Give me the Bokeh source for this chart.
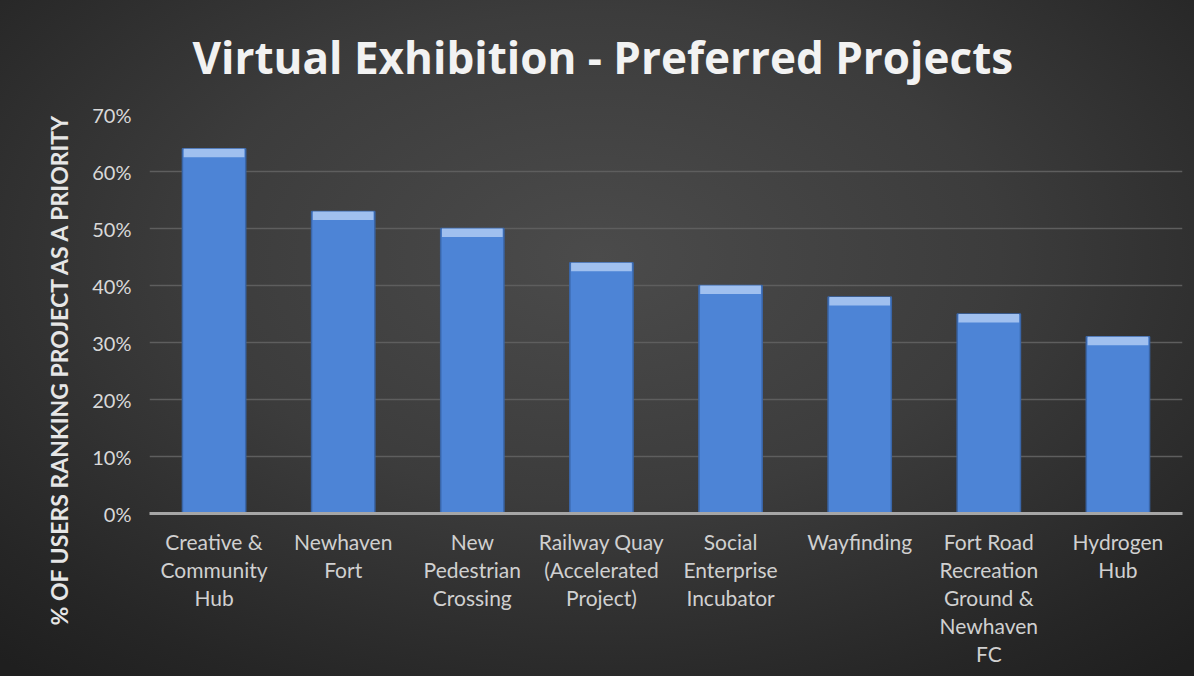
import numpy as np
from bokeh.plotting import figure
from bokeh.models import (FixedTicker, NumeralTickFormatter, Title, Range1d, ColumnDataSource)
from bokeh.embed import file_html
from bokeh.resources import INLINE

# ---- data ----
categories = [
    "Creative &\nCommunity\nHub",
    "Newhaven\nFort",
    "New\nPedestrian\nCrossing",
    "Railway Quay\n(Accelerated\nProject)",
    "Social\nEnterprise\nIncubator",
    "Wayfinding",
    "Fort Road\nRecreation\nGround &\nNewhaven\nFC",
    "Hydrogen\nHub",
]
values = [0.64, 0.53, 0.50, 0.44, 0.40, 0.38, 0.35, 0.31]
y_ticks = [0.0, 0.1, 0.2, 0.3, 0.4, 0.5, 0.6, 0.7]

title_text = "Virtual Exhibition - Preferred Projects"
y_title = "% OF USERS RANKING PROJECT AS A PRIORITY"

FONT = "Lato"
n = len(categories)
xs = list(np.arange(n) + 0.5)

src = ColumnDataSource(dict(x=xs, top=values,
                            bev=[v - 0.015 for v in values]))

p = figure(width=1194, height=676, output_backend="svg", toolbar_location=None,
           x_range=Range1d(0, n), y_range=Range1d(0, 0.7),
           min_border_left=149, min_border_right=12,
           min_border_top=114, min_border_bottom=163)

p.border_fill_alpha = 0
p.background_fill_alpha = 0
p.outline_line_color = None
p.styles = {"background": "radial-gradient(ellipse 75% 80% at 50% 38%, #4b4b4b 0%, #3c3c3c 45%, #262626 85%, #1f1f1f 100%)"}

# bars
p.vbar(x="x", top="top", bottom=0, width=0.49, source=src,
       fill_color="#4d84d6", line_color="#3a66a8", line_width=1.5)
p.vbar(x="x", top="top", bottom="bev", width=0.47, source=src,
       fill_color="#a0c0ef", line_color=None)

# title
p.title.text = title_text
p.title.text_font = "Open Sans"
p.title.text_font_style = "bold"
p.title.text_font_size = "44px"
p.title.text_color = "#f2f2f2"
p.title.align = "left"
p.title.offset = 43
p.title.standoff = 51
p.title.vertical_align = "top"

# y axis
p.yaxis.ticker = FixedTicker(ticks=y_ticks)
p.yaxis.formatter = NumeralTickFormatter(format="0%")
p.yaxis.axis_line_color = None
p.yaxis.major_tick_line_color = None
p.yaxis.minor_tick_line_color = None
p.yaxis.major_label_text_font = FONT
p.yaxis.major_label_text_font_size = "20px"
p.yaxis.major_label_text_color = "#d9d9d9"
p.yaxis.major_label_standoff = 12

# x axis
p.xaxis.ticker = FixedTicker(ticks=xs)
p.xaxis.major_label_overrides = {x: c for x, c in zip(xs, categories)}
p.xaxis.major_tick_line_color = None
p.xaxis.minor_tick_line_color = None
p.xaxis.axis_line_color = "#a6a6a6"
p.xaxis.axis_line_width = 3
p.xaxis.major_label_text_font = FONT
p.xaxis.major_label_text_font_size = "21px"
p.xaxis.major_label_text_color = "#d0d0d0"
p.xaxis.major_label_text_line_height = 1.12
p.xaxis.major_label_standoff = 9

# grid
p.xgrid.grid_line_color = None
p.ygrid.grid_line_color = "#5e5e5e"
p.ygrid.grid_line_width = 1.5

# y title
p.add_layout(Title(text=y_title, align="left", offset=-112,
                   text_font=FONT, text_font_style="bold", text_font_size="23px",
                   text_color="#e6e6e6", standoff=34), "left")

open("out.html", "w").write(file_html(p, INLINE))
